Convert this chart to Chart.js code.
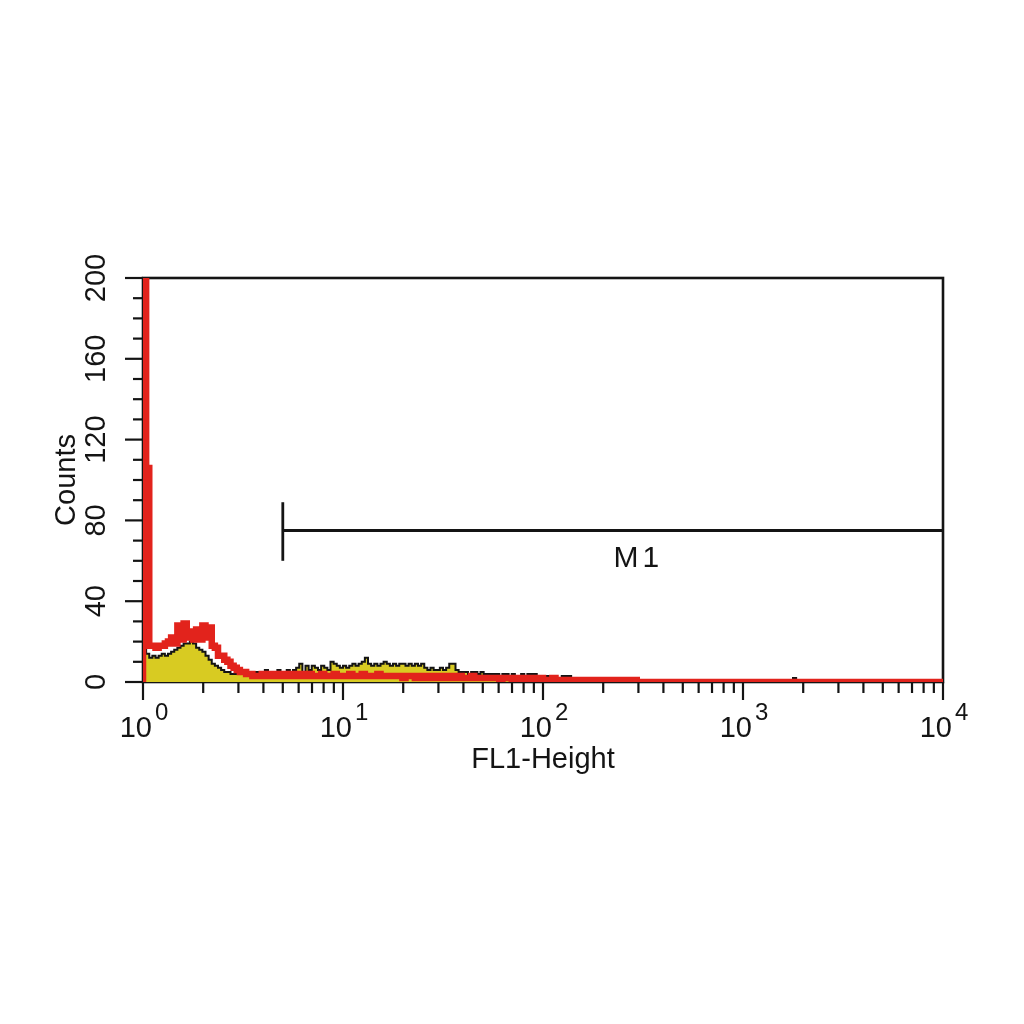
<!DOCTYPE html>
<html>
<head>
<meta charset="utf-8">
<script src="https://cdn.jsdelivr.net/npm/chart.js@4.4.1/dist/chart.umd.min.js"></script>
<style>
html,body{margin:0;padding:0;background:#fff;}
#wrap{width:1024px;height:1024px;position:relative;}
</style>
</head>
<body>
<div id="wrap"><canvas id="c"></canvas></div>
<script>
// ---- data (256 channels over 4 log decades) ----
const DECADES = 4;
const redCounts = [
 250,106,18,18,17,18,18,19,20,22,19,28,21,29,22,25,
 21,26,21,28,22,27,18,17,13,13,11,10,8,7,6,5,
 5,4,4,3,3,3,4,3,3,4,3,3,4,3,3,4,
 3,3,4,3,3,4,3,3,3,4,3,3,3,4,3,3,
 3,3,4,3,3,3,4,3,3,3,3,4,3,3,3,3,
 3,3,3,2,3,3,3,2,3,3,2,3,3,2,3,2,
 3,2,3,2,2,3,2,2,2,3,2,2,2,2,2,2,
 2,2,1,2,2,2,1,2,2,1,2,1,2,2,1,2,
 1,1,1,2,1,1,1,1,1,1,1,0,1,1,0,1,
 1,0,1,0,1,0,0,1,0,0,1,0,0,1,0,0,
 0,0,0,0,0,0,0,0,0,0,0,0,0,0,0,0,
 0,0,0,0,0,0,0,0,0,0,0,0,0,0,0,0,
 0,0,0,0,0,0,0,0,0,0,0,0,0,0,0,0,
 0,0,0,0,0,0,0,0,0,0,0,0,0,0,0,0,
 0,0,0,0,0,0,0,0,0,0,0,0,0,0,0,0,
 0,0,0,0,0,0,0,0,0,0,0,0,0,0,0,0
];
const yellowCounts = [
 200,14,12,13,12,13,14,13,14,15,16,17,18,19,19,20,
 19,17,16,15,13,11,9,8,7,6,5,5,4,4,4,5,
 4,5,4,4,5,4,5,6,5,4,5,6,5,5,6,5,
 6,7,9,5,8,6,8,7,6,8,7,6,10,9,8,7,
 8,7,8,9,8,9,10,12,9,8,9,8,9,10,9,8,
 9,8,9,9,8,9,8,9,8,9,7,6,7,6,6,7,
 6,7,9,9,6,5,5,5,4,5,5,4,5,4,4,4,
 4,4,3,4,4,3,4,3,3,4,3,4,4,4,2,3,
 2,3,2,2,1,2,3,3,3,2,1,1,0,0,1,0,
 0,1,1,0,0,0,0,0,0,1,1,0,0,0,0,0,
 0,0,0,0,0,1,0,0,0,0,0,0,0,0,0,0,
 0,0,0,0,0,0,0,0,0,0,0,0,0,0,0,0,
 0,0,0,0,0,0,0,0,0,0,0,0,0,0,0,0,
 2,0,0,0,0,0,0,0,0,0,0,0,0,0,0,0,
 0,0,0,0,0,0,0,0,0,0,0,0,0,0,0,0,
 0,0,0,0,0,0,0,0,0,0,0,0,0,0,0,0
];
// marker M1
const gateLabel = 'M1';
const gateStart = 5;
const gateEnd = 10000;
const gateLevel = 75;
const gateBar = [60, 89];
const gateLabelPos = {x: 300, y: 61};
// axes
const xMajorTicks = [1, 10, 100, 1000, 10000];
const xTickBase = '10';
const xTickExponents = ['0', '1', '2', '3', '4'];
const xMinorMultipliers = [2, 3, 4, 5, 6, 7, 8, 9];
const yMajorTicks = [0, 40, 80, 120, 160, 200];
const yMinorTicks = [10, 20, 30, 50, 60, 70, 90, 100, 110, 130, 140, 150, 170, 180, 190];
const xTitle = 'FL1-Height';
const yTitle = 'Counts';

function toPoints(arr) {
  const pts = [{x: 1, y: 0}];
  arr.forEach((v, i) => pts.push({x: Math.pow(10, i * DECADES / arr.length), y: v}));
  pts.push({x: Math.pow(10, DECADES), y: arr[arr.length - 1]});
  return pts;
}

const FONT = '"Liberation Sans", Arial, Helvetica, sans-serif';
const INK = '#141414';

const frame = {
  id: 'frame',
  beforeDatasetsDraw(chart) {
    const {ctx, chartArea: a, scales: {x, y}} = chart;
    ctx.save();
    ctx.strokeStyle = INK;
    ctx.fillStyle = INK;
    ctx.lineWidth = 2.6;
    ctx.strokeRect(a.left, a.top, a.right - a.left, a.bottom - a.top);
    const line = (x1, y1, x2, y2) => { ctx.beginPath(); ctx.moveTo(x1, y1); ctx.lineTo(x2, y2); ctx.stroke(); };
    ctx.lineWidth = 2.2;
    // x ticks + labels
    xMajorTicks.forEach((t, i) => {
      const px = x.getPixelForValue(t);
      line(px, a.bottom, px, a.bottom + 18);
      if (i < xMajorTicks.length - 1) {
        xMinorMultipliers.forEach(m => {
          const p = x.getPixelForValue(m * t);
          line(p, a.bottom, p, a.bottom + 11);
        });
      }
      ctx.font = '29px ' + FONT;
      ctx.textAlign = 'right';
      ctx.textBaseline = 'alphabetic';
      ctx.fillText(xTickBase, px + 9, a.bottom + 55);
      ctx.font = '24px ' + FONT;
      ctx.textAlign = 'left';
      ctx.fillText(xTickExponents[i], px + 12, a.bottom + 38);
    });
    // y ticks + labels
    yMajorTicks.forEach(t => {
      const py = y.getPixelForValue(t);
      line(a.left - 18, py, a.left, py);
      ctx.save();
      ctx.translate(a.left - 46, py);
      ctx.rotate(-Math.PI / 2);
      ctx.font = '29px ' + FONT;
      ctx.textAlign = 'center';
      ctx.textBaseline = 'middle';
      ctx.fillText(String(t), 0, 0);
      ctx.restore();
    });
    yMinorTicks.forEach(t => {
      const py = y.getPixelForValue(t);
      line(a.left - 10, py, a.left, py);
    });
    // axis titles
    ctx.font = '29px ' + FONT;
    ctx.textAlign = 'center';
    ctx.textBaseline = 'alphabetic';
    ctx.fillText(xTitle, (a.left + a.right) / 2, a.bottom + 86);
    ctx.save();
    ctx.translate(a.left - 76, (a.top + a.bottom) / 2);
    ctx.rotate(-Math.PI / 2);
    ctx.textBaseline = 'middle';
    ctx.fillText(yTitle, 0, 0);
    ctx.restore();
    // gate label
    ctx.font = '30px ' + FONT;
    ctx.textAlign = 'center';
    ctx.textBaseline = 'middle';
    try { ctx.letterSpacing = '4px'; } catch (e) {}
    ctx.fillText(gateLabel, x.getPixelForValue(gateLabelPos.x), y.getPixelForValue(gateLabelPos.y));
    ctx.restore();
  }
};

new Chart(document.getElementById('c'), {
  type: 'line',
  data: {
    datasets: [
      {
        label: 'M1 level',
        data: [{x: gateStart, y: gateLevel}, {x: gateEnd, y: gateLevel}],
        borderColor: INK, borderWidth: 2.8, pointRadius: 0, fill: false, order: 0
      },
      {
        label: 'M1 bar',
        data: [{x: gateStart, y: gateBar[0]}, {x: gateStart, y: gateBar[1]}],
        borderColor: INK, borderWidth: 2.8, pointRadius: 0, fill: false, order: 0
      },
      {
        label: 'Control',
        data: toPoints(redCounts),
        stepped: true,
        borderColor: '#e2231c', borderWidth: 6.5, pointRadius: 0, fill: false,
        borderJoinStyle: 'miter', order: 1
      },
      {
        label: 'Sample',
        data: toPoints(yellowCounts),
        stepped: true,
        borderColor: INK, borderWidth: 2, backgroundColor: '#d8cb22',
        pointRadius: 0, fill: 'origin', order: 2
      }
    ]
  },
  options: {
    responsive: true,
    maintainAspectRatio: false,
    animation: false,
    devicePixelRatio: 1,
    layout: {padding: {left: 143, right: 81, top: 278, bottom: 342}},
    plugins: {legend: {display: false}, tooltip: {enabled: false}},
    scales: {
      x: {type: 'logarithmic', min: 1, max: 10000, display: false},
      y: {type: 'linear', min: 0, max: 200, display: false}
    }
  },
  plugins: [frame]
});
</script>
</body>
</html>
